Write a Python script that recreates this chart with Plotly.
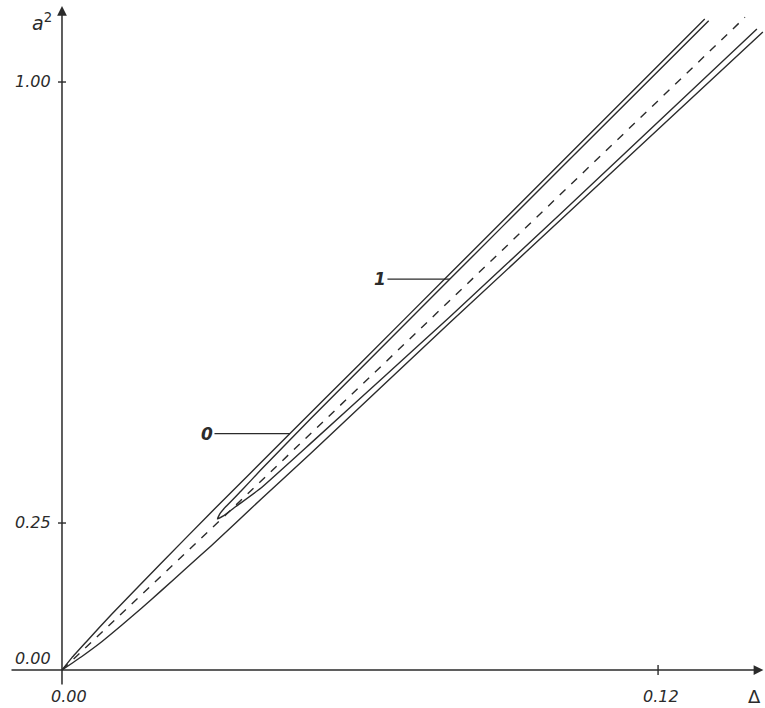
import numpy as np
import plotly.graph_objects as go

# ---- data ----
delta_outer_upper = [0.0, 0.002, 0.005, 0.01, 0.02, 0.03, 0.046, 0.06, 0.078, 0.1, 0.1294]
a2_outer_upper = [0.0, 0.021, 0.049, 0.095, 0.182, 0.268, 0.403, 0.521, 0.673, 0.859, 1.107]

delta_outer_lower = [0.0, 0.004, 0.008, 0.012, 0.016, 0.02, 0.025, 0.03, 0.04, 0.05, 0.078, 0.11, 0.1411]
a2_outer_lower = [0.0, 0.023, 0.048, 0.076, 0.105, 0.135, 0.173, 0.211, 0.290, 0.368, 0.590, 0.841, 1.085]

delta_inner_upper = [0.0313, 0.0318, 0.033, 0.036, 0.04, 0.05, 0.078, 0.1, 0.1302]
a2_inner_upper = [0.257, 0.266, 0.278, 0.304, 0.340, 0.427, 0.664, 0.850, 1.104]

delta_inner_lower = [0.0313, 0.0325, 0.035, 0.04, 0.05, 0.065, 0.078, 0.1, 0.1399]
a2_inner_lower = [0.257, 0.262, 0.278, 0.309, 0.385, 0.500, 0.600, 0.773, 1.090]

delta_dashed = [0.0, 0.03, 0.07, 0.1375]
a2_dashed = [0.0, 0.240, 0.563, 1.110]

x_tick_values = [0.0, 0.12]
x_tick_labels = ["0.00", "0.12"]
y_tick_values = [0.0, 0.25, 1.0]
y_tick_labels = ["0.00", "0.25", "1.00"]

label_0_delta = 0.0459
label_1_delta = 0.0781

# ---- figure ----
W, H = 765, 708
x_range = [-0.01248, 0.14153]
y_range = [-0.0646, 1.1395]
px_x = W / (x_range[1] - x_range[0])
px_y = H / (y_range[1] - y_range[0])

ink = "#2b2b2b"
fig = go.Figure()

solid = dict(color=ink, width=1.4, shape="spline", smoothing=0.3)
fig.add_trace(go.Scatter(x=delta_outer_upper, y=a2_outer_upper, mode="lines", line=solid))
fig.add_trace(go.Scatter(x=delta_outer_lower, y=a2_outer_lower, mode="lines", line=solid))
tongue_x = list(reversed(delta_inner_upper)) + delta_inner_lower[1:]
tongue_y = list(reversed(a2_inner_upper)) + a2_inner_lower[1:]
fig.add_trace(go.Scatter(x=tongue_x, y=tongue_y, mode="lines", line=solid))
fig.add_trace(go.Scatter(x=delta_dashed, y=a2_dashed, mode="lines",
                         line=dict(color=ink, width=1.4, dash="8px,8px")))

font_lbl = dict(family="DejaVu Sans", size=16, color=ink)
ann = []
# axes with arrows
ann.append(dict(x=0.1412, y=0, ax=x_range[0] + 10 / px_x, ay=0, xref="x", yref="y",
                axref="x", ayref="y", text="", showarrow=True, arrowhead=2,
                arrowsize=1.3, arrowwidth=1.5, arrowcolor=ink))
ann.append(dict(x=0, y=y_range[1] - 6 / px_y, ax=0, ay=-16 / px_y, xref="x", yref="y",
                axref="x", ayref="y", text="", showarrow=True, arrowhead=2,
                arrowsize=1.3, arrowwidth=1.5, arrowcolor=ink))

shapes = []
for v, t in zip(x_tick_values, x_tick_labels):
    if v != 0:
        shapes.append(dict(type="line", xref="x", yref="y", x0=v, x1=v,
                           y0=-5 / px_y, y1=5 / px_y, line=dict(color=ink, width=1.4)))
    ann.append(dict(x=v, y=-26 / px_y, xref="x", yref="y", text="<i>%s</i>" % t,
                    showarrow=False, xshift=7 if v == 0 else 3, font=font_lbl))
for v, t in zip(y_tick_values, y_tick_labels):
    if v != 0:
        shapes.append(dict(type="line", xref="x", yref="y", x0=-4 / px_x, x1=4 / px_x,
                           y0=v, y1=v, line=dict(color=ink, width=1.4)))
    ann.append(dict(x=-9 / px_x, y=v, xref="x", yref="y", text="<i>%s</i>" % t,
                    showarrow=False, xanchor="right", yshift=12 if v == 0 else 1,
                    font=font_lbl))

# axis titles
ann.append(dict(x=-20 / px_x, y=y_range[1] - 22 / px_y, xref="x", yref="y",
                text="<i>a</i><sup>2</sup>", showarrow=False,
                font=dict(family="DejaVu Sans", size=19, color=ink)))
ann.append(dict(x=x_range[1] - 11 / px_x, y=-26 / px_y, xref="x", yref="y",
                text="Δ", showarrow=False,
                font=dict(family="DejaVu Sans", size=18, color=ink)))

# curve labels with leader lines
y0pt = float(np.interp(label_0_delta, delta_outer_upper, a2_outer_upper))
y1pt = float(np.interp(label_1_delta, delta_inner_upper, a2_inner_upper))
ann.append(dict(x=label_0_delta, y=y0pt, xref="x", yref="y", text="<b><i>0</i></b>",
                showarrow=True, arrowhead=0, arrowwidth=1.3, arrowcolor=ink,
                ax=-83, ay=0, font=dict(family="DejaVu Sans", size=17, color=ink)))
ann.append(dict(x=label_1_delta, y=y1pt, xref="x", yref="y", text="<b><i>1</i></b>",
                showarrow=True, arrowhead=0, arrowwidth=1.3, arrowcolor=ink,
                ax=-70, ay=0, font=dict(family="DejaVu Sans", size=17, color=ink)))

fig.update_layout(
    width=W, height=H, margin=dict(l=0, r=0, t=0, b=0),
    paper_bgcolor="white", plot_bgcolor="white", showlegend=False,
    xaxis=dict(range=x_range, visible=False, fixedrange=True),
    yaxis=dict(range=y_range, visible=False, fixedrange=True),
    annotations=ann, shapes=shapes,
)
fig.write_html("out.html", config={"displayModeBar": False},
               post_script="document.body.style.margin='0px';")
